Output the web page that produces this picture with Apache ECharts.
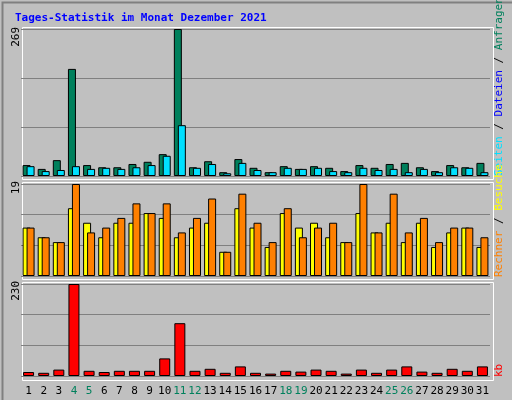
<!DOCTYPE html>
<html><head><meta charset="utf-8">
<script src="https://cdn.jsdelivr.net/npm/echarts@6/dist/echarts.min.js"></script>
<style>html,body{margin:0;padding:0;background:#c0c0c0}#c{width:512px;height:400px}</style>
</head><body><div id="c"></div>
<script>
const days = ['1','2','3','4','5','6','7','8','9','10','11','12','13','14','15','16','17','18','19','20','21','22','23','24','25','26','27','28','29','30','31'];
const weekend = ['4','5','11','12','18','19','25','26'];
const hits = [20,13,29,196,20,16,16,22,26,40,269,16,27,7,31,15,7,18,13,18,15,9,20,15,22,24,16,9,20,16,24];
const files = [18,9,11,18,13,15,13,16,20,37,93,15,22,5,24,11,7,15,13,15,9,7,15,11,13,7,13,7,16,15,7];
const visits = [10,8,7,14,11,8,11,11,13,12,8,10,11,5,14,10,6,13,10,11,8,7,13,9,11,7,11,6,9,10,6];
const sites = [10,8,7,19,9,10,12,15,13,15,9,12,16,5,17,11,7,14,8,10,11,7,19,9,17,9,12,7,10,10,8];
const kbytes = [10,8,16,230,13,10,13,13,13,44,132,13,18,8,24,8,6,13,11,16,13,6,16,8,16,24,11,8,18,13,24];
const maxTop = 269, maxMid = 19, maxBot = 230;

const font = 'DejaVu Sans Mono';
const chart = echarts.init(document.getElementById('c'));
const grids = [{left:21,right:22,top:29,height:147},{left:21,right:22,top:184,height:92},{left:21,right:22,top:284,height:92}];
function yAx(i,max){return {gridIndex:i,min:0,max:max,interval:max/3,axisLabel:{show:false},axisTick:{show:false},axisLine:{show:false},splitLine:{lineStyle:{color:'#808080',width:1}}};}
function xAx(i,show){return {gridIndex:i,type:'category',data:days,axisTick:{show:false},axisLine:{show:false},
  axisLabel:show?{interval:0,fontFamily:font,fontSize:11,margin:10,formatter:v=>weekend.includes(v)?'{g|'+v+'}':'{n|'+v+'}',rich:{g:{color:'#00805c',fontFamily:font,fontSize:11},n:{color:'#000',fontFamily:font,fontSize:11}}}:{show:false}};}
const bs = {borderColor:'#000',borderWidth:1};
const panel = (y,h)=>({type:'rect',left:20,top:y,shape:{width:471,height:h},style:{fill:'none',stroke:'#ffffff',lineWidth:1},silent:true});
chart.setOption({
  backgroundColor:'#c0c0c0',
  animation:false,
  title:{text:'Tages-Statistik im Monat Dezember 2021',left:10,top:8,textStyle:{color:'#0000ff',fontFamily:font,fontSize:11,fontWeight:'bold'}},
  grid:grids,
  xAxis:[xAx(0,false),xAx(1,false),xAx(2,true)],
  yAxis:[yAx(0,maxTop),yAx(1,maxMid),yAx(2,maxBot)],
  series:[
    {type:'bar',xAxisIndex:0,yAxisIndex:0,data:hits,barWidth:8,barGap:'-50%',itemStyle:Object.assign({color:'#00805c'},bs)},
    {type:'bar',xAxisIndex:0,yAxisIndex:0,data:files,barWidth:8,itemStyle:Object.assign({color:'#00e0ff'},bs)},
    {type:'bar',xAxisIndex:1,yAxisIndex:1,data:visits,barWidth:8,barGap:'-50%',itemStyle:Object.assign({color:'#ffff00'},bs)},
    {type:'bar',xAxisIndex:1,yAxisIndex:1,data:sites,barWidth:8,itemStyle:Object.assign({color:'#ff8000'},bs)},
    {type:'bar',xAxisIndex:2,yAxisIndex:2,data:kbytes,barWidth:11,itemStyle:Object.assign({color:'#ff0000'},bs)}
  ],
  graphic:[
    {type:'rect',left:0,top:0,shape:{width:511,height:399},style:{fill:'none',stroke:'#808080',lineWidth:2},silent:true},
    panel(25,152),panel(180,97),panel(280,98),
    {type:'text',x:16,y:27,rotation:Math.PI/2,style:{text:String(maxTop),font:'11px '+font,fill:'#000',align:'right',verticalAlign:'middle'}},
    {type:'text',x:16,y:181,rotation:Math.PI/2,style:{text:String(maxMid),font:'11px '+font,fill:'#000',align:'right',verticalAlign:'middle'}},
    {type:'text',x:16,y:281,rotation:Math.PI/2,style:{text:String(maxBot),font:'11px '+font,fill:'#000',align:'right',verticalAlign:'middle'}},
    {type:'text',x:499,y:176,rotation:Math.PI/2,style:{rich:{a:{fill:'#00e0ff',font:'11px '+font},b:{fill:'#0000ff',font:'11px '+font},c:{fill:'#00805c',font:'11px '+font},s:{fill:'#000',font:'11px '+font}},text:'{a|Seiten}{s| / }{b|Dateien}{s| / }{c|Anfragen}',align:'left',verticalAlign:'middle'}},
    {type:'text',x:499,y:277,rotation:Math.PI/2,style:{rich:{a:{fill:'#ff8000',font:'11px '+font},b:{fill:'#ffff00',font:'11px '+font},s:{fill:'#000',font:'11px '+font}},text:'{a|Rechner}{s| / }{b|Besuche}',align:'left',verticalAlign:'middle'}},
    {type:'text',x:499,y:377,rotation:Math.PI/2,style:{text:'kb',font:'11px '+font,fill:'#ff0000',align:'left',verticalAlign:'middle'}}
  ]
});
</script></body></html>
